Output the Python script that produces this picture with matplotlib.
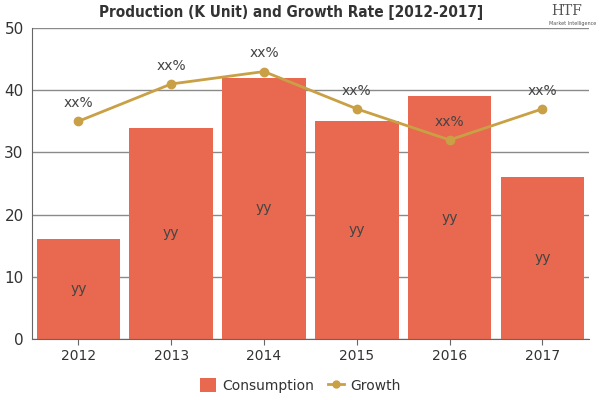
import matplotlib
matplotlib.use("Agg")
import matplotlib.pyplot as plt
from matplotlib.lines import Line2D
from matplotlib.patches import Patch

years = ["2012", "2013", "2014", "2015", "2016", "2017"]
consumption = [16, 34, 42, 35, 39, 26]
growth = [35, 41, 43, 37, 32, 37]
bar_labels = ["yy"] * 6
growth_labels = ["xx%"] * 6

bar_color = "#E8694F"
line_color = "#C9A045"
text_color = "#333333"
grid_color = "#8a8a8a"

fig = plt.figure(figsize=(6, 4), dpi=100)
ax = fig.add_axes([0.0533, 0.1525, 0.928, 0.7775])

x = list(range(len(years)))
ax.bar(x, consumption, width=0.9, color=bar_color, zorder=2)
ax.plot(x, growth, color=line_color, lw=2, marker="o", ms=6, zorder=3)

for xi, v, lab in zip(x, consumption, bar_labels):
    ax.text(xi, v / 2, lab, ha="center", va="center", fontsize=10, color="#444444", zorder=4)
for xi, v, lab in zip(x, growth, growth_labels):
    ax.annotate(lab, (xi, v), xytext=(0, 8), textcoords="offset points",
                ha="center", va="bottom", fontsize=10, color="#444444", zorder=4)

ax.set_xlim(-0.5, len(years) - 0.5)
ax.set_ylim(0, 50)
ax.set_yticks([0, 10, 20, 30, 40, 50])
ax.set_xticks(x)
ax.set_xticklabels(years)
ax.yaxis.grid(True, color=grid_color, lw=1, zorder=0)
ax.set_axisbelow(True)
for s in ["top", "right"]:
    ax.spines[s].set_visible(False)
ax.spines["left"].set_color("#666666")
ax.spines["bottom"].set_color("#666666")
ax.tick_params(axis="y", length=0, labelsize=11, labelcolor=text_color, pad=6)
ax.tick_params(axis="x", length=4, color="#666666", labelsize=10, labelcolor=text_color, pad=3)

fig.text(0.485, 0.968, "Production (K Unit) and Growth Rate [2012-2017]", ha="center", va="center",
         fontsize=11, fontweight="bold", color="#333333", fontstretch="condensed")
fig.text(0.945, 0.972, "HTF", ha="center", va="center", fontsize=10, family="DejaVu Serif", color="#555555")
fig.text(0.955, 0.94, "Market Intelligence", ha="center", va="center", fontsize=3.5, color="#555555")

handles = [Patch(facecolor=bar_color, label="Consumption"),
           Line2D([0], [0], color=line_color, lw=2, marker="o", ms=5, label="Growth")]
fig.legend(handles=handles, loc="center", bbox_to_anchor=(0.5, 0.037), ncol=2, frameon=False,
           fontsize=10, handlelength=1.2, handleheight=1.2, columnspacing=1.0, handletextpad=0.4,
           labelcolor=text_color)

fig.savefig("out.png", dpi=100)
